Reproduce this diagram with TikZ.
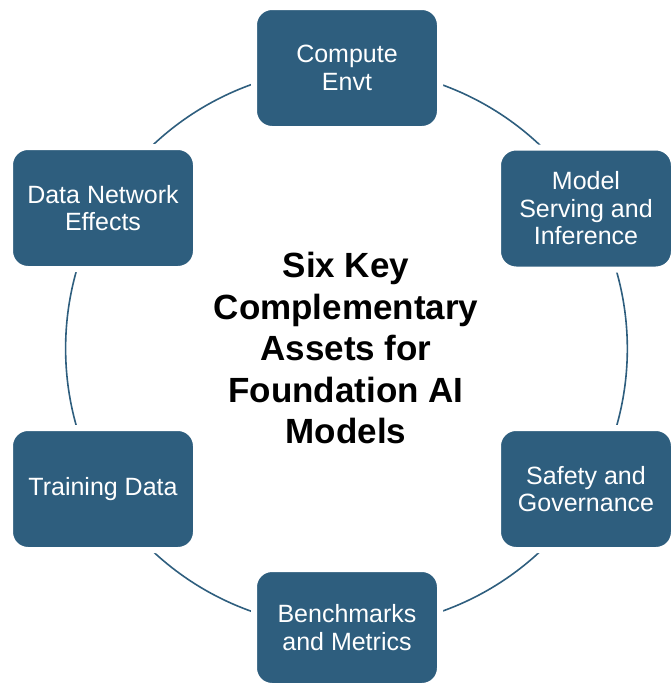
\documentclass[tikz,border=0pt]{standalone}
\usepackage{fontspec}
\setmainfont{Liberation Sans}
\usepackage{xcolor}
\usepackage{tikz}
\usetikzlibrary{backgrounds}

\definecolor{assetblue}{HTML}{2E5E7E}

\begin{document}
\begin{tikzpicture}[x=1pt, y=-1pt,
    asset/.style={draw=white, line width=6pt, fill=assetblue, rounded corners=18pt,
        text=white, align=center, minimum width=186pt, minimum height=122pt,
        font=\fontsize{25}{27.5}\selectfont},
    ring/.style={draw=assetblue, line width=1.6pt, bend left=30, looseness=0.91}]
    \useasboundingbox (0,0) rectangle (671,683);

    % Title
    \node[font=\fontsize{35}{41.5}\selectfont\bfseries, align=center] (title) at (346,348)
        {Six Key\\Complementary\\Assets for\\Foundation AI\\Models};

    % Assets
    \node[asset] (compute) at (347,68) {Compute\\Envt};
    \node[asset, minimum width=176pt] (serving) at (586,208.5) {Model\\Serving and\\Inference};
    \node[asset, minimum width=176pt] (safety) at (586,489) {Safety and\\Governance};
    \node[asset, minimum height=117pt] (bench) at (347,627.5) {Benchmarks\\and Metrics};
    \node[asset] (training) at (103,489) {Training Data};
    \node[asset] (network) at (103,208) {Data Network\\Effects};

    % Ring
    \begin{scope}[on background layer]
        \draw[ring] (compute.center) to ([xshift=4pt]serving.center);
        \draw[ring] ([xshift=4pt]serving.center) to ([xshift=4pt]safety.center);
        \draw[ring] ([xshift=4pt]safety.center) to (bench.center);
        \draw[ring] (bench.center) to (training.center);
        \draw[ring] (training.center) to (network.center);
        \draw[ring] (network.center) to (compute.center);
    \end{scope}
\end{tikzpicture}
\end{document}
